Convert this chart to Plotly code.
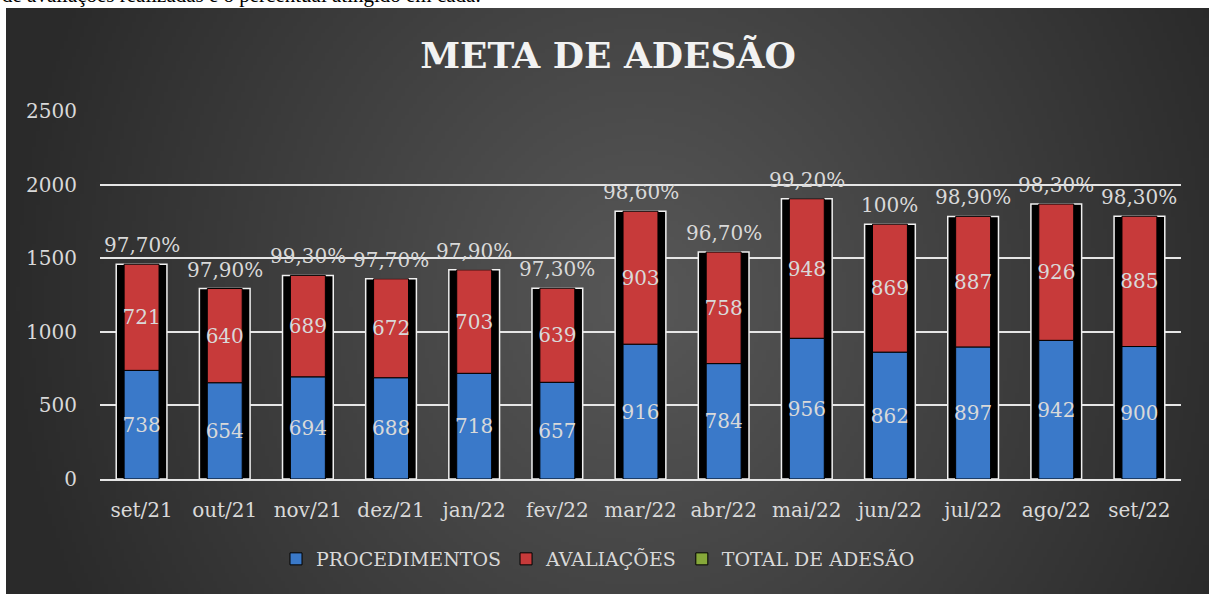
import base64, struct, zlib
import numpy as np
import plotly.graph_objects as go

# ---- data ----
categories = ["set/21", "out/21", "nov/21", "dez/21", "jan/22", "fev/22", "mar/22",
              "abr/22", "mai/22", "jun/22", "jul/22", "ago/22", "set/22"]
procedimentos = [738, 654, 694, 688, 718, 657, 916, 784, 956, 862, 897, 942, 900]
avaliacoes = [721, 640, 689, 672, 703, 639, 903, 758, 948, 869, 887, 926, 885]
total_adesao = [0.977, 0.979, 0.993, 0.977, 0.979, 0.973, 0.986, 0.967, 0.992, 1.0, 0.989, 0.983, 0.983]
pct_labels = ["97,70%", "97,90%", "99,30%", "97,70%", "97,90%", "97,30%", "98,60%",
              "96,70%", "99,20%", "100%", "98,90%", "98,30%", "98,30%"]
y_ticks = [0, 500, 1000, 1500, 2000, 2500]

totals = [p + a for p, a in zip(procedimentos, avaliacoes)]

W, H = 1209, 594

# ---- radial gradient background as PNG data URI ----
def gradient_png(w, h):
    xs = np.linspace(6, W, w)
    ys = np.linspace(8, H, h)
    X, Y = np.meshgrid(xs, ys)
    d = np.sqrt(((X - 640) / 640.0) ** 2 + ((Y - 300) / 700.0) ** 2)
    v = 88 - 46 * np.clip(d, 0, 1)
    img = np.clip(v, 0, 255).astype(np.uint8)
    rgb = np.stack([img, img, img], axis=-1)
    raw = b"".join(b"\x00" + rgb[r].tobytes() for r in range(h))
    def chunk(t, data):
        c = struct.pack(">I", len(data)) + t + data
        return c + struct.pack(">I", zlib.crc32(t + data) & 0xffffffff)
    png = b"\x89PNG\r\n\x1a\n" + chunk(b"IHDR", struct.pack(">IIBBBBB", w, h, 8, 2, 0, 0, 0)) \
        + chunk(b"IDAT", zlib.compress(raw, 9)) + chunk(b"IEND", b"")
    return "data:image/png;base64," + base64.b64encode(png).decode()

FONT = "DejaVu Serif"
TXT = "#d9d9d9"

fig = go.Figure()

fig.add_trace(go.Bar(
    x=categories, y=total_adesao, name="TOTAL DE ADESÃO", width=0.42,
    marker=dict(color="#86a83a", line=dict(color="#000000", width=1)),
    hoverinfo="skip", legendrank=3))

fig.add_trace(go.Bar(
    x=categories, y=totals, width=0.61, showlegend=False,
    marker=dict(color="#000000", line=dict(color="#f0f0f0", width=1.5)),
    hoverinfo="skip"))

fig.add_trace(go.Bar(
    x=categories, y=procedimentos, name="PROCEDIMENTOS", width=0.42,
    marker=dict(color="#3a79c9", line=dict(color="#000000", width=1)),
    text=[str(v) for v in procedimentos], textposition="inside",
    insidetextanchor="middle", textangle=0, constraintext="none",
    textfont=dict(family=FONT, size=20, color=TXT), legendrank=1))

fig.add_trace(go.Bar(
    x=categories, y=avaliacoes, base=procedimentos, name="AVALIAÇÕES", width=0.42,
    marker=dict(color="#c73a3a", line=dict(color="#000000", width=1)),
    text=[str(v) for v in avaliacoes], textposition="inside",
    insidetextanchor="middle", textangle=0, constraintext="none",
    textfont=dict(family=FONT, size=20, color=TXT), legendrank=2))

for c, t, lab in zip(categories, totals, pct_labels):
    fig.add_annotation(x=c, y=t, text=lab, showarrow=False, yshift=19,
                       yanchor="middle", font=dict(family=FONT, size=20, color=TXT))

fig.add_annotation(xref="paper", yref="paper", x=0.0, y=1 - 9 / H, xanchor="left",
                   yanchor="bottom", showarrow=False,
                   text="de avaliações realizadas e o percentual atingido em cada.",
                   font=dict(family="Liberation Serif", size=21, color="#000000"))

fig.add_layout_image(dict(
    source=gradient_png(300, 150), xref="paper", yref="paper",
    x=6 / W, y=1 - 8 / H, sizex=(W - 6) / W, sizey=(H - 8) / H,
    xanchor="left", yanchor="top", sizing="stretch", layer="below"))

fig.update_layout(
    width=W, height=H,
    barmode="overlay",
    paper_bgcolor="#ffffff", plot_bgcolor="rgba(0,0,0,0)",
    margin=dict(l=0, r=0, t=0, b=0, pad=0, autoexpand=False),
    title=dict(text="<b>META DE ADESÃO</b>", x=608 / W, xanchor="center",
               y=1 - 55 / H, yanchor="middle",
               font=dict(family=FONT, size=36, color="#f2f2f2")),
    showlegend=True,
    legend=dict(orientation="h", x=598 / W, xanchor="center", y=35 / H, yanchor="middle",
                font=dict(family=FONT, size=19, color=TXT), bgcolor="rgba(0,0,0,0)",
                traceorder="normal", itemwidth=30),
    xaxis=dict(domain=[100 / W, 1181 / W], showgrid=False, showline=True,
               linecolor="#e6e6e6", linewidth=2, ticks="", ticklabelstandoff=12,
               tickfont=dict(family=FONT, size=20, color=TXT), fixedrange=True),
    yaxis=dict(domain=[(H - 479) / H, (H - 111) / H], range=[0, 2500],
               tickvals=y_ticks, showgrid=True, gridcolor="#e6e6e6", gridwidth=2,
               zeroline=False, showline=False, ticks="", ticklabelstandoff=22,
               tickfont=dict(family=FONT, size=20, color=TXT), fixedrange=True),
)

fig.write_html("out.html", config={"displayModeBar": False},
               post_script="document.body.style.margin='0';")
